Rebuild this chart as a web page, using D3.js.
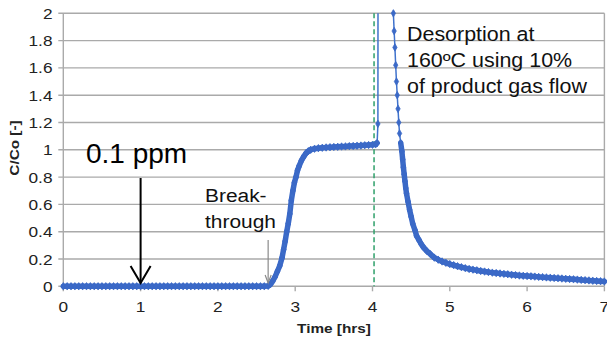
<!DOCTYPE html>
<html><head><meta charset="utf-8">
<script src="https://cdn.jsdelivr.net/npm/d3@7"></script>
<style>html,body{margin:0;padding:0;background:#fff;}svg{display:block;font-family:"Liberation Sans",Arial,sans-serif;}</style>
</head><body>
<svg id="c" width="607" height="337"></svg>
<script>
// ---- data ----
const timeHrs = [
0.00,0.05,0.10,0.15,0.20,0.25,0.30,0.35,0.40,0.45,0.50,0.55,0.60,0.65,0.70,0.75,0.80,0.85,0.90,0.95,
1.00,1.05,1.10,1.15,1.20,1.25,1.30,1.35,1.40,1.45,1.50,1.55,1.60,1.65,1.70,1.75,1.80,1.85,1.90,1.95,
2.00,2.05,2.10,2.15,2.20,2.25,2.30,2.35,2.40,2.45,2.50,2.55,2.60,
2.65,2.68,2.71,2.74,2.77,2.80,2.83,2.85,2.87,2.89,2.91,2.93,2.95,2.97,2.99,3.01,3.03,3.05,3.08,3.11,3.14,3.17,3.20,
3.25,3.30,3.35,3.40,3.45,3.50,3.55,3.60,3.65,3.70,3.75,3.80,3.85,3.90,3.95,4.00,4.04,4.06,4.07,4.075,
4.26,4.27,4.28,4.29,4.30,4.31,4.32,4.33,4.34,4.35,4.365,4.38,4.39,4.40,4.41,4.42,4.43,4.44,4.46,4.48,4.50,4.52,4.55,4.57,4.60,4.63,4.66,4.70,4.75,4.80,4.85,4.90,4.95,
5.00,5.05,5.10,5.15,5.20,5.25,5.30,5.35,5.40,5.45,5.50,5.55,5.60,5.65,5.70,5.75,5.80,5.85,5.90,5.95,
6.00,6.05,6.10,6.15,6.20,6.25,6.30,6.35,6.40,6.45,6.50,6.55,6.60,6.65,6.70,6.75,6.80,6.85,6.90,6.95,7.00
];
const cOverCo = [
0,0,0,0,0,0,0,0,0,0,0,0,0,0,0,0,0,0,0,0,
0,0,0,0,0,0,0,0,0,0,0,0,0,0,0,0,0,0,0,0,
0,0,0,0,0,0,0,0,0,0,0,0,0,
0.003,0.015,0.04,0.07,0.11,0.15,0.21,0.27,0.33,0.40,0.46,0.53,0.63,0.70,0.76,0.80,0.85,0.88,0.92,0.95,0.975,0.99,1.0,
1.008,1.012,1.015,1.017,1.019,1.021,1.022,1.024,1.025,1.027,1.028,1.030,1.031,1.033,1.035,1.037,1.040,1.050,1.19,5.0,
2.15,2.0,1.87,1.75,1.62,1.5,1.4,1.3,1.2,1.12,1.05,0.99,0.93,0.87,0.82,0.77,0.72,0.68,0.62,0.56,0.51,0.46,0.41,0.37,0.34,0.31,0.285,0.26,0.235,0.21,0.195,0.182,0.172,
0.163,0.155,0.147,0.14,0.133,0.127,0.122,0.117,0.112,0.108,0.104,0.10,0.097,0.094,0.091,0.088,0.085,0.082,0.079,0.077,
0.075,0.073,0.071,0.069,0.067,0.065,0.063,0.061,0.059,0.057,0.055,0.053,0.051,0.049,0.047,0.045,0.043,0.041,0.039,0.037,0.035
];
const xTicks = [0,1,2,3,4,5,6,7];
const yTicks = [0,0.2,0.4,0.6,0.8,1,1.2,1.4,1.6,1.8,2];
const switchTime = 4.02;       // green dashed line
const ppmArrowTime = 1;        // "0.1 ppm" arrow
const breakthroughTime = 2.65; // breakthrough arrow
const xTitle = "Time [hrs]";
const yTitle = "C/Co [-]";
const noteFeed = "0.1 ppm";
const noteBreak = ["Break-", "through"];
const noteDesorb = ["Desorption at", "160ºC using 10%", "of product gas flow"];

// ---- layout ----
const svg = d3.select("#c");
const L = 63.3, R = 604.4, T = 13.3, B = 286.3;
const x = d3.scaleLinear().domain([0,7]).range([L,R]);
const y = d3.scaleLinear().domain([0,2]).range([B,T]);
const grid = "#aaaaaa";
const blue = "#3b69c7";

// gridlines
svg.append("g").selectAll("line").data(yTicks).join("line")
  .attr("x1",L-5).attr("x2",R).attr("y1",d=>y(d)).attr("y2",d=>y(d))
  .attr("stroke",grid).attr("stroke-width",1.4);
// left axis & right border
svg.append("line").attr("x1",L).attr("x2",L).attr("y1",T).attr("y2",B).attr("stroke",grid).attr("stroke-width",1.4);
svg.append("line").attr("x1",R).attr("x2",R).attr("y1",T).attr("y2",B).attr("stroke",grid).attr("stroke-width",1.4);
// x tick marks
svg.append("g").selectAll("line").data(xTicks).join("line")
  .attr("x1",d=>x(d)).attr("x2",d=>x(d)).attr("y1",B).attr("y2",B+5)
  .attr("stroke",grid).attr("stroke-width",1.4);

// tick labels
const fmt = d3.format("~g");
svg.append("g").selectAll("text").data(yTicks).join("text")
  .attr("transform",d=>`translate(52.5,${y(d)+5.5}) scale(1.15,1)`)
  .attr("text-anchor","end").attr("font-size",15).attr("fill","#222")
  .text(d=>fmt(d));
svg.append("g").selectAll("text").data(xTicks).join("text")
  .attr("transform",d=>`translate(${x(d)},${312}) scale(1.15,1)`)
  .attr("text-anchor","middle").attr("font-size",15).attr("fill","#222")
  .text(d=>fmt(d));

// axis titles
svg.append("text").attr("transform",`translate(334,333) scale(1.18,1)`)
  .attr("text-anchor","middle").attr("font-size",13).attr("font-weight","bold").attr("fill","#222").text(xTitle);
svg.append("text").attr("transform",`translate(19,148) rotate(-90) scale(1.18,1)`)
  .attr("text-anchor","middle").attr("font-size",13).attr("font-weight","bold").attr("fill","#222").text(yTitle);

// green dashed line
svg.append("line").attr("x1",x(switchTime)).attr("x2",x(switchTime)).attr("y1",T).attr("y2",B)
  .attr("stroke","#2fa06a").attr("stroke-width",1.5).attr("stroke-dasharray","5,3");

// clip
const defs = svg.append("defs");
defs.append("clipPath").attr("id","plot").append("rect").attr("x",L-4).attr("y",T).attr("width",R-L+8).attr("height",B-T+8);
defs.append("clipPath").attr("id","plotm").append("rect").attr("x",L-4).attr("y",T-4).attr("width",R-L+8).attr("height",B-T+10);

const pts = timeHrs.map((t,i)=>({t, v:cOverCo[i]}));
// dense-marker band (where the logged points overlap into a thick trace)
const pairs = d3.pairs(pts).filter(([a,b])=>a.v<=1.1 && b.v<=1.1);
svg.append("g").attr("clip-path","url(#plot)").selectAll("line").data(pairs).join("line")
  .attr("x1",d=>x(d[0].t)).attr("y1",d=>y(d[0].v)).attr("x2",d=>x(d[1].t)).attr("y2",d=>y(d[1].v))
  .attr("stroke",blue).attr("stroke-width",5.5).attr("stroke-linecap","round");
const line = d3.line().x(d=>x(d.t)).y(d=>y(d.v));
svg.append("path").datum(pts).attr("clip-path","url(#plot)")
  .attr("d",line).attr("fill","none").attr("stroke","#3f72cc").attr("stroke-width",1.5);
const sym = d3.symbol().type(d3.symbolDiamond).size(16);
svg.append("g").attr("clip-path","url(#plotm)").selectAll("path").data(pts.filter(d=>d.v<=2.0001)).join("path")
  .attr("transform",d=>`translate(${x(d.t)},${y(d.v)})`).attr("d",sym)
  .attr("fill",blue).attr("stroke",blue).attr("stroke-width",0.8);

// annotations
svg.append("text").attr("x",86).attr("y",163).attr("font-size",28).attr("fill","#000").text(noteFeed);
const ax = x(ppmArrowTime);
svg.append("line").attr("x1",ax).attr("x2",ax).attr("y1",178).attr("y2",283).attr("stroke","#000").attr("stroke-width",2);
svg.append("path").attr("d",`M${ax-10},266 L${ax},283 L${ax+10},266`).attr("fill","none").attr("stroke","#000").attr("stroke-width",2);

noteBreak.forEach((s,i)=>svg.append("text").attr("transform",`translate(205,${202+i*25.5}) scale(1.1,1)`)
  .attr("font-size",19).attr("fill","#111").text(s));
const bx = x(breakthroughTime);
svg.append("line").attr("x1",bx).attr("x2",bx).attr("y1",240).attr("y2",282).attr("stroke","#8a8a8a").attr("stroke-width",1.2);
svg.append("path").attr("d",`M${bx-3},275 L${bx},283 L${bx+3},275`).attr("fill","none").attr("stroke","#8a8a8a").attr("stroke-width",1.2);

noteDesorb.forEach((s,i)=>svg.append("text").attr("transform",`translate(407,${41+i*26}) scale(1.1,1)`)
  .attr("font-size",19.5).attr("fill","#111").text(s));
</script>
</body></html>
